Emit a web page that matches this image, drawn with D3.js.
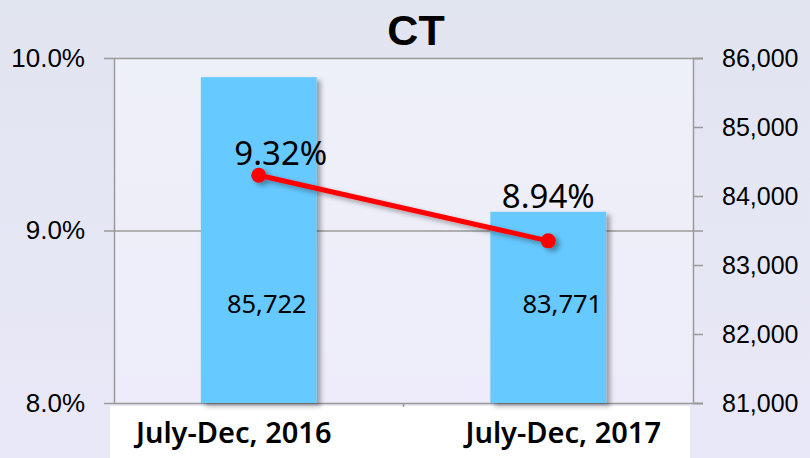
<!DOCTYPE html>
<html>
<head>
<meta charset="utf-8">
<script src="https://cdn.jsdelivr.net/npm/d3@7"></script>
<style>
  body { margin: 0; }
  svg { display: block; font-family: 'Noto Sans', sans-serif; }
  .tick text { fill: #000; }
</style>
</head>
<body>
<svg width="810" height="458"></svg>
<script>
// chart data
var categories = ['July-Dec, 2016', 'July-Dec, 2017']
var counts = [85722, 83771]
var rates = [9.32, 8.94]
var rateTicks = [8, 9, 10]
var countTicks = [81000, 82000, 83000, 84000, 85000, 86000]

var svg = d3.select('svg')
var width = 810, height = 458
var plotLeft = 114, plotRight = 693, plotTop = 58, plotBottom = 403

var defs = svg.append('defs')
var bg = defs.append('linearGradient').attr('id', 'bg').attr('x1', 0).attr('y1', 0).attr('x2', 0).attr('y2', 1)
bg.append('stop').attr('offset', '0%').attr('stop-color', '#e1e5f0')
bg.append('stop').attr('offset', '100%').attr('stop-color', '#e9e8f8')
var plotBg = defs.append('linearGradient').attr('id', 'plotBg').attr('x1', 0).attr('y1', 0).attr('x2', 0).attr('y2', 1)
plotBg.append('stop').attr('offset', '0%').attr('stop-color', '#eef0f8')
plotBg.append('stop').attr('offset', '100%').attr('stop-color', '#eeecfa')

var shadow = defs.append('filter').attr('id', 'shadow')
  .attr('x', '-20%').attr('y', '-20%').attr('width', '150%').attr('height', '150%')
shadow.append('feDropShadow').attr('dx', 4).attr('dy', 3).attr('stdDeviation', 2.5)
  .attr('flood-color', '#000').attr('flood-opacity', 0.35)

svg.append('rect').attr('width', width).attr('height', height).attr('fill', 'url(#bg)')
svg.append('rect')
  .attr('x', plotLeft).attr('y', plotTop)
  .attr('width', plotRight - plotLeft).attr('height', plotBottom - plotTop)
  .attr('fill', 'url(#plotBg)')
// white strip behind category labels
svg.append('rect')
  .attr('x', 110).attr('y', 406)
  .attr('width', 580).attr('height', 52)
  .attr('fill', '#fff')

var xScale = d3.scaleBand()
  .range([plotLeft, plotRight])
  .domain(categories)

var yRate = d3.scaleLinear()
  .range([plotBottom, plotTop])
  .domain([8, 10])

var yCount = d3.scaleLinear()
  .range([plotBottom, plotTop])
  .domain([81000, 86000])

// grid lines
svg.append('g')
  .attr('class', 'grid')
  .attr('transform', `translate(${plotLeft - 10}, 0)`)
  .call(d3.axisLeft(yRate).tickValues(rateTicks)
    .tickSize(-(plotRight - plotLeft + 20)).tickFormat(''))
  .call(g => g.select('.domain').remove())
  .call(g => g.selectAll('line').attr('stroke', '#9a9a9a').attr('stroke-width', 1.5))

// left axis
svg.append('g')
  .attr('transform', `translate(${plotLeft}, 0)`)
  .call(d3.axisLeft(yRate).tickValues(rateTicks).tickSize(0).tickPadding(29)
    .tickFormat(d => d.toFixed(1) + '%'))
  .call(g => g.select('.domain').attr('stroke', '#9a9a9a').attr('stroke-width', 1.5))
  .call(g => g.selectAll('text').attr('font-size', 26))

// right axis
svg.append('g')
  .attr('transform', `translate(${plotRight}, 0)`)
  .call(d3.axisRight(yCount).tickValues(countTicks).tickSize(10).tickPadding(19)
    .tickFormat(d3.format(',')))
  .call(g => g.select('.domain').attr('stroke', '#9a9a9a').attr('stroke-width', 1.5))
  .call(g => g.selectAll('line').attr('stroke', '#9a9a9a').attr('stroke-width', 1.5))
  .call(g => g.selectAll('text').attr('font-size', 25))

// category boundary tick
svg.append('line')
  .attr('x1', xScale(categories[1])).attr('x2', xScale(categories[1]))
  .attr('y1', plotBottom).attr('y2', plotBottom + 4)
  .attr('stroke', '#9a9a9a').attr('stroke-width', 1.5)

// bars
var barW = xScale.bandwidth() * 0.4
var barGroups = svg.selectAll('.barg')
  .data(categories)
  .enter()
  .append('g')
  .attr('class', 'barg')

barGroups.append('rect')
  .attr('x', (d) => xScale(d) + xScale.bandwidth() / 2 - barW / 2)
  .attr('y', (d, i) => yCount(counts[i]))
  .attr('width', barW)
  .attr('height', (d, i) => plotBottom - yCount(counts[i]))
  .attr('fill', '#66c9ff')
  .attr('filter', 'url(#shadow)')

var valueDx = [-10, -4]
barGroups.append('text')
  .attr('x', (d, i) => xScale(d) + xScale.bandwidth() / 2 + barW / 2 + valueDx[i])
  .attr('y', 313)
  .attr('text-anchor', 'end')
  .attr('font-size', 25.5)
  .text((d, i) => d3.format(',')(counts[i]))

// rate line
var line = d3.line()
  .x((d, i) => xScale(categories[i]) + xScale.bandwidth() / 2)
  .y((d) => yRate(d))

var lineG = svg.append('g').attr('filter', 'url(#shadow)')
lineG.append('path')
  .datum(rates)
  .attr('d', line)
  .attr('fill', 'none')
  .attr('stroke', '#ff0000')
  .attr('stroke-width', 5)

lineG.selectAll('circle')
  .data(rates)
  .enter()
  .append('circle')
  .attr('cx', (d, i) => xScale(categories[i]) + xScale.bandwidth() / 2)
  .attr('cy', (d) => yRate(d))
  .attr('r', 7.5)
  .attr('fill', '#ff0000')

var rateDx = [22, 0]
var rateDy = [-10, -33]
svg.selectAll('.rate')
  .data(rates)
  .enter()
  .append('text')
  .attr('class', 'rate')
  .attr('x', (d, i) => xScale(categories[i]) + xScale.bandwidth() / 2 + rateDx[i])
  .attr('y', (d, i) => yRate(d) + rateDy[i])
  .attr('text-anchor', 'middle')
  .attr('font-size', 33)
  .text((d) => d.toFixed(2) + '%')

// category labels
var catDx = [-25, 15]
svg.selectAll('.cat')
  .data(categories)
  .enter()
  .append('text')
  .attr('class', 'cat')
  .attr('x', (d, i) => xScale(d) + xScale.bandwidth() / 2 + catDx[i])
  .attr('y', 443)
  .attr('text-anchor', 'middle')
  .attr('font-size', 29)
  .attr('font-weight', 600)
  .text((d) => d)

svg.append('text')
  .attr('x', 416)
  .attr('y', 45)
  .attr('text-anchor', 'middle')
  .attr('font-family', 'Liberation Sans, Arial, sans-serif')
  .attr('font-size', 43)
  .attr('font-weight', 'bold')
  .text('CT')
</script>
</body>
</html>
